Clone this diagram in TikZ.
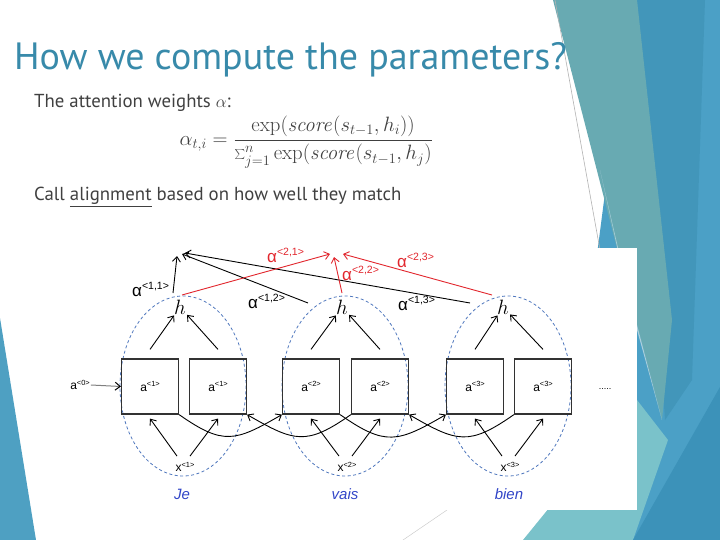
\documentclass[tikz,border=0pt]{standalone}
\usepackage[no-math]{fontspec}
\setmainfont{PT Sans}
\newfontfamily\dfont{Liberation Sans}
\usetikzlibrary{arrows.meta,calc}
\definecolor{titleblue}{RGB}{56,138,170}
\definecolor{bodygray}{RGB}{64,64,64}
\definecolor{attred}{RGB}{226,38,45}
\definecolor{ellblue}{RGB}{80,120,190}
\definecolor{wordblue}{RGB}{50,70,200}
\definecolor{boxgray}{RGB}{50,50,50}
\definecolor{bgteal}{RGB}{104,170,178}
\definecolor{bgblue}{RGB}{75,160,198}
\definecolor{bgdark}{RGB}{66,150,186}
\definecolor{bgdeep}{RGB}{60,146,185}
\definecolor{bglteal}{RGB}{122,194,202}
\definecolor{bgpale}{RGB}{170,207,220}
\definecolor{bgleft}{RGB}{78,160,194}
\newcommand\supx[2]{#1\raisebox{.36em}{\scalebox{.62}{#2}}}
\begin{document}
\begin{tikzpicture}[x=1pt,y=-1pt,
  box/.style={draw=boxgray, line width=1.2pt, minimum width=57pt, minimum height=55pt, inner sep=0pt, font=\dfont\fontsize{12}{12}\selectfont},
  barr/.style={-{Straight Barb[length=5pt,width=8pt]}, line width=0.9pt},
  rarr/.style={barr, draw=attred},
  ell/.style={draw=ellblue, dash pattern=on 3pt off 2.5pt, line width=0.8pt},
  hlab/.style={font=\fontsize{20}{20}\selectfont, inner sep=1pt},
  xlab/.style={font=\dfont\fontsize{12}{12}\selectfont, inner sep=1pt},
  alab/.style={font=\dfont\fontsize{17}{17}\selectfont, inner sep=0pt, anchor=base west},
  word/.style={font=\dfont\itshape\fontsize{15}{15}\selectfont, text=wordblue, inner sep=0pt}
]
\useasboundingbox (0,0) rectangle (720,540);
% background decoration
\fill[bgleft] (0,318) -- (36,540) -- (0,540) -- cycle;
\fill[bgblue] (630,0) -- (720,0) -- (720,540) -- (560,540) -- cycle;
\fill[bgdark] (637,0) -- (705,0) -- (692,380) -- (665,420) -- cycle;
\fill[bgteal] (553,0) -- (637,0) -- (672,320) -- (662,420) -- (620,260) -- cycle;
\fill[bgpale] (600,170) -- (620,260) -- (662,420) -- (637,330) -- cycle;
\fill[bglteal] (523,540) -- (637,400) -- (668,440) -- (633,540) -- cycle;
\fill[bgdeep] (633,540) -- (720,387) -- (720,540) -- cycle;
\draw[gray!60, line width=0.6pt] (555,0) -- (600,250);
\draw[gray!40, line width=0.5pt] (403,540) -- (447,510);
% white image area
\fill[white] (60,248) rectangle (637,510);
% title and text
\node[anchor=base west, inner sep=0pt, text=titleblue, font=\fontsize{38}{38}\selectfont] (title) at (14,70) {How we compute the parameters?};
\node[anchor=base west, inner sep=0pt, text=bodygray, font=\fontsize{18.8}{18.8}\selectfont] (t1) at (34,108) {The attention weights $\alpha$:};
\node[anchor=east, inner sep=0pt, text=bodygray, font=\fontsize{21}{21}\selectfont] (frm) at (433,142) {$\displaystyle \alpha_{t,i}=\frac{\exp\bigl(\mathit{score}(s_{t-1},h_i)\bigr)}{{\textstyle\sum_{j=1}^{n}}\exp\bigl(\mathit{score}(s_{t-1},h_j)}$};
\node[anchor=base west, inner sep=0pt, text=bodygray, font=\fontsize{18.8}{18.8}\selectfont] (t2) at (34,201) {Call \underline{alignment} based on how well they match};
% ellipses
\draw[ell] (183,386) ellipse [x radius=63, y radius=90];
\draw[ell] (345,386) ellipse [x radius=63, y radius=90];
\draw[ell] (508,386) ellipse [x radius=63, y radius=90];
% boxes
\node[box] (b1) at (150,386.5) {\supx{a}{<1>}};
\node[box] (b2) at (218,386.5) {\supx{a}{<1>}};
\node[box] (b3) at (311,386.5) {\supx{a}{<2>}};
\node[box] (b4) at (380,386.5) {\supx{a}{<2>}};
\node[box] (b5) at (475,386.5) {\supx{a}{<3>}};
\node[box] (b6) at (543,386.5) {\supx{a}{<3>}};
\node[xlab] (a0) at (80,385) {\supx{a}{<0>}};
\draw[line width=1pt, draw=gray, -{Straight Barb[length=5pt,width=8pt,color=black]}] (a0.east) -- (b1.west);
\node[font=\dfont\fontsize{9}{9}\selectfont, inner sep=0pt] (dots) at (605,389) {.....};
% h nodes
\node[hlab] (h1) at (180,307) {$h$};
\node[hlab] (h2) at (342,307) {$h$};
\node[hlab] (h3) at (503,307) {$h$};
\draw[barr] ([yshift=9pt]b1.north) -- (h1);
\draw[barr] ([yshift=9pt]b2.north) -- (h1);
\draw[barr] ([yshift=9pt]b3.north) -- (h2);
\draw[barr] ([yshift=9pt]b4.north) -- (h2);
\draw[barr] ([yshift=9pt]b5.north) -- (h3);
\draw[barr] ([yshift=9pt]b6.north) -- (h3);
% x nodes
\node[xlab] (x1) at (185,467) {\supx{x}{<1>}};
\node[xlab] (x2) at (347,467) {\supx{x}{<2>}};
\node[xlab] (x3) at (510,467) {\supx{x}{<3>}};
\draw[barr] ([shift={(-8pt,5pt)}]x1.north) -- ([yshift=-4pt]b1.south);
\draw[barr] ([shift={(5pt,5pt)}]x1.north) -- ([yshift=-4pt]b2.south);
\draw[barr] ([shift={(-8pt,5pt)}]x2.north) -- ([yshift=-4pt]b3.south);
\draw[barr] ([shift={(5pt,5pt)}]x2.north) -- ([yshift=-4pt]b4.south);
\draw[barr] ([shift={(-8pt,5pt)}]x3.north) -- ([yshift=-4pt]b5.south);
\draw[barr] ([shift={(5pt,5pt)}]x3.north) -- ([yshift=-4pt]b6.south);
% cross curves
\draw[barr] (b1.south east) to[out=-35,in=-150,looseness=1.35] (b3.south west);
\draw[barr] (b4.south west) to[out=-145,in=-30,looseness=1.35] (b2.south east);
\draw[barr] (b3.south east) to[out=-35,in=-150,looseness=1.35] (b5.south west);
\draw[barr] (b6.south west) to[out=-145,in=-30,looseness=1.35] (b4.south east);
% words
\node[word] (w1) at (182,494) {Je};
\node[word] (w2) at (345,494) {vais};
\node[word] (w3) at (509,494) {bien};
% attention arrows
\coordinate (s11) at (173,293);
\coordinate (s12) at (308,303);
\coordinate (s13) at (470,303);
\coordinate (s21) at (182,295);
\coordinate (s22) at (342,293);
\coordinate (s23) at (492,295);
\coordinate (e11) at (177,256);
\coordinate (e12) at (182,254);
\coordinate (e13) at (185,253);
\coordinate (e21) at (330,254);
\coordinate (e22) at (334,257);
\coordinate (e23) at (343,254);
\draw[barr] (s11) -- (e11);
\draw[barr] (s12) -- (e12);
\draw[barr] (s13) -- (e13);
\draw[rarr] (s21) -- (e21);
\draw[rarr] (s22) -- (e22);
\draw[rarr] (s23) -- (e23);
\node[alab] (l11) at (132,296) {\supx{α}{<1,1>}};
\node[alab] (l12) at (248,308) {\supx{α}{<1,2>}};
\node[alab] (l13) at (398,310) {\supx{α}{<1,3>}};
\node[alab, text=attred] (l21) at (267,262) {\supx{α}{<2,1>}};
\node[alab, text=attred] (l22) at (342,280) {\supx{α}{<2,2>}};
\node[alab, text=attred] (l23) at (397,267) {\supx{α}{<2,3>}};
\end{tikzpicture}
\end{document}
